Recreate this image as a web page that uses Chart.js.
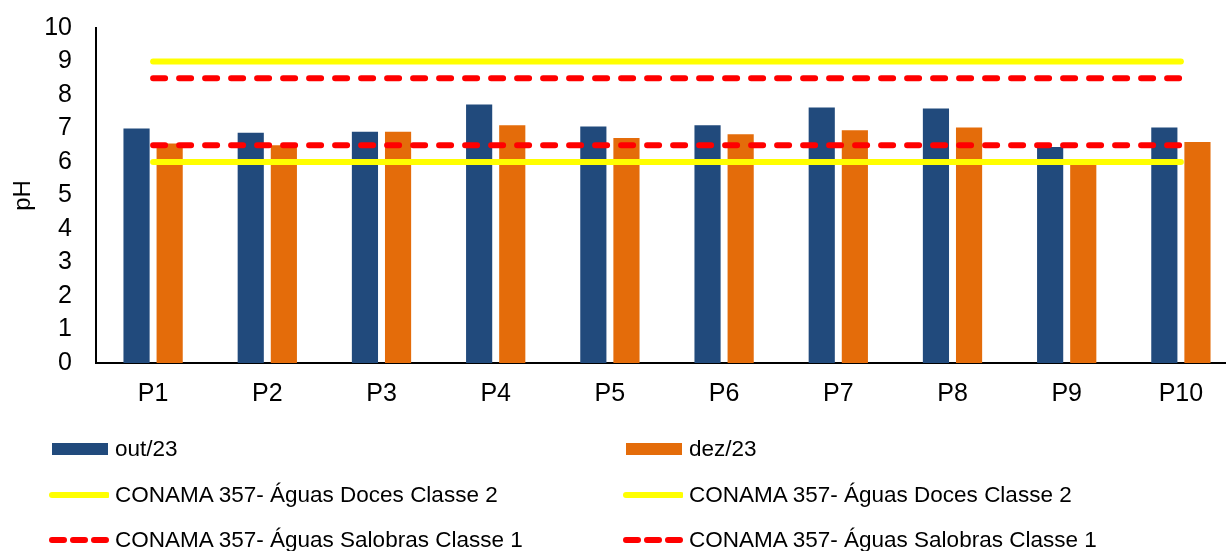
<!DOCTYPE html>
<html><head><meta charset="utf-8">
<script src="https://cdn.jsdelivr.net/npm/chart.js@4"></script>
<style>
html,body{margin:0;padding:0;background:#fff;overflow:hidden;width:1226px;height:551px;}
#wrap{position:absolute;left:0;top:0;width:1240px;height:413px;}
#legend{position:absolute;left:0;top:0;width:1226px;height:551px;font-family:"Liberation Sans",Arial,sans-serif;font-size:22.5px;color:#000;}
.item{position:absolute;display:flex;align-items:center;height:30px;white-space:nowrap;}
.item svg{margin-right:6px;flex:none;}
</style></head>
<body>
<div id="wrap"><canvas id="c" width="1240" height="413"></canvas></div>
<div id="legend"></div>
<script>
const categories = ['P1','P2','P3','P4','P5','P6','P7','P8','P9','P10'];
const outValues = [7.0, 6.87, 6.9, 7.72, 7.06, 7.1, 7.63, 7.6, 6.45, 7.03];
const dezValues = [6.55, 6.5, 6.9, 7.1, 6.72, 6.83, 6.95, 7.03, 5.95, 6.6];
const docesMax = [9, 9, 9, 9, 9, 9, 9, 9, 9, 9];
const docesMin = [6, 6, 6, 6, 6, 6, 6, 6, 6, 6];
const salobrasMax = [8.5, 8.5, 8.5, 8.5, 8.5, 8.5, 8.5, 8.5, 8.5, 8.5];
const salobrasMin = [6.5, 6.5, 6.5, 6.5, 6.5, 6.5, 6.5, 6.5, 6.5, 6.5];
const yTicks = [0, 1, 2, 3, 4, 5, 6, 7, 8, 9, 10];
const seriesLabels = ['out/23', 'dez/23', 'CONAMA 357- Águas Doces Classe 2', 'CONAMA 357- Águas Salobras Classe 1'];

const FONT = '"Liberation Sans", Arial, sans-serif';
const BLUE = '#214A7C', ORANGE = '#E46C0A', YELLOW = '#FFFF00', RED = '#FF0000';

function lineDs(label, data, color, dash) {
  return {type:'line', label, data, borderColor:color, backgroundColor:color, borderWidth:6,
    pointRadius:0, pointHoverRadius:0, borderCapStyle:'round', borderDash:dash, fill:false, tension:0, order:1};
}

const chart = new Chart(document.getElementById('c'), {
  type:'bar',
  data:{
    labels:categories,
    datasets:[
      {type:'bar', label:seriesLabels[0], data:outValues, backgroundColor:BLUE, categoryPercentage:0.58, barPercentage:0.79, order:2},
      {type:'bar', label:seriesLabels[1], data:dezValues, backgroundColor:ORANGE, categoryPercentage:0.58, barPercentage:0.79, order:2},
      lineDs(seriesLabels[2], docesMax, YELLOW, []),
      lineDs(seriesLabels[2], docesMin, YELLOW, []),
      lineDs(seriesLabels[3], salobrasMax, RED, [12,14]),
      lineDs(seriesLabels[3], salobrasMin, RED, [12,14])
    ]
  },
  options:{
    responsive:false, animation:false, devicePixelRatio:1,
    layout:{padding:{top:28, right:2, left:0, bottom:0}},
    plugins:{legend:{display:false}, tooltip:{enabled:false}},
    scales:{
      x:{
        grid:{display:false, drawTicks:false},
        border:{display:true, color:'#000', width:2},
        ticks:{color:'#000', font:{family:FONT, size:25}, padding:16},
        afterFit(s){ s.height = 50; }
      },
      y:{
        min:0, max:10,
        afterBuildTicks(s){ s.ticks = yTicks.map(v => ({value:v})); },
        grid:{display:false, drawTicks:false},
        border:{display:true, color:'#000', width:2},
        ticks:{color:'#000', font:{family:FONT, size:25}, padding:24, autoSkip:false},
        title:{display:true, text:'pH', color:'#000', font:{family:FONT, size:24}, padding:{top:9, bottom:0}},
        afterFit(s){ s.width = 96; s.paddingTop = 0; s.paddingBottom = 0; }
      }
    }
  }
});

// HTML legend built from the chart's datasets
const legend = document.getElementById('legend');
const colX = [49, 623];
const rowY = [449, 495, 540];
chart.data.datasets.forEach((ds, i) => {
  const col = i % 2, row = Math.floor(i / 2);
  const item = document.createElement('div');
  item.className = 'item';
  item.style.left = colX[col] + 'px';
  item.style.top = (rowY[row] - 15) + 'px';
  let sw;
  if (ds.type === 'bar') {
    sw = `<svg width="60" height="30"><rect x="3" y="9" width="56" height="12" fill="${ds.backgroundColor}"/></svg>`;
  } else if (ds.borderDash && ds.borderDash.length) {
    sw = `<svg width="60" height="30"><line x1="3" y1="15" x2="58" y2="15" stroke="${ds.borderColor}" stroke-width="6" stroke-linecap="round" stroke-dasharray="12 9"/></svg>`;
  } else {
    sw = `<svg width="60" height="30"><line x1="3" y1="15" x2="58" y2="15" stroke="${ds.borderColor}" stroke-width="6" stroke-linecap="round"/></svg>`;
  }
  item.innerHTML = sw + '<span></span>';
  item.querySelector('span').textContent = ds.label;
  legend.appendChild(item);
});
</script>
</body></html>
